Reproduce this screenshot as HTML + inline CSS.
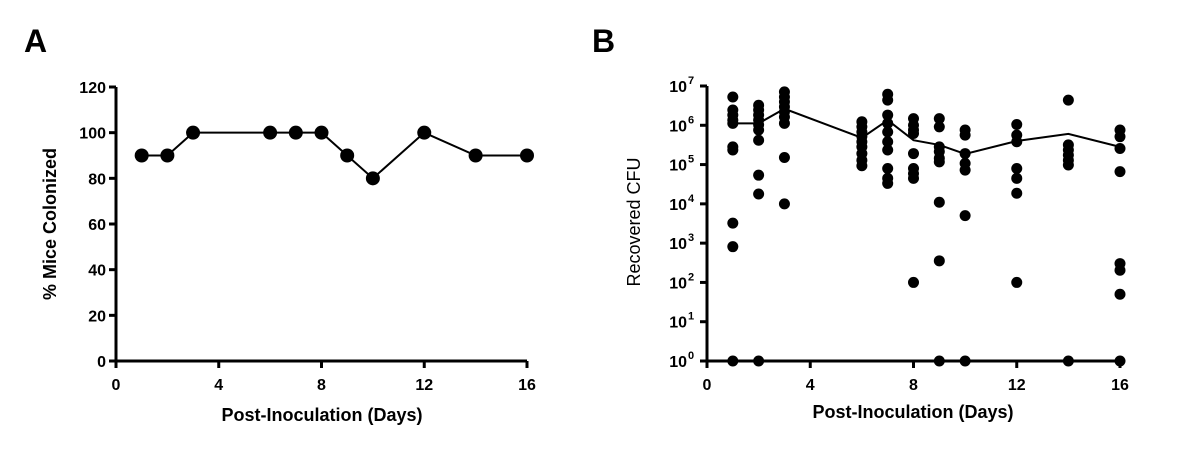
<!DOCTYPE html>
<html><head><meta charset="utf-8"><style>
html,body{margin:0;padding:0;background:#fff;}
svg{display:block;font-family:"Liberation Sans",Arial,sans-serif;}
</style></head><body>
<svg id="fig" width="1200" height="464" viewBox="0 0 1200 464">
<text x="24" y="52" font-size="32" font-weight="bold">A</text>
<text x="592" y="52" font-size="32" font-weight="bold">B</text>
<g id="pa"></g>
<g id="pb"></g>
</svg>
<script>
const NS="http://www.w3.org/2000/svg";
// Panel A data
const daysA=[1,2,3,6,7,8,9,10,12,14,16];
const pctA=[90,90,100,100,100,100,90,80,100,90,90];
const xTicks=[0,4,8,12,16];
const yTicksA=[0,20,40,60,80,100,120];
// Panel B data (log10 CFU)
const daysB=[1,2,3,6,7,8,9,10,12,14,16];
const cfuB=[
[6.72,6.39,6.26,6.13,6.05,5.45,5.37,3.51,2.91,0],
[6.51,6.39,6.26,6.13,6.01,5.88,5.62,4.73,4.25,0],
[6.85,6.72,6.60,6.47,6.34,6.21,6.05,5.18,4.0],
[6.09,5.96,5.83,5.71,5.58,5.45,5.28,5.11,4.97],
[6.79,6.64,6.26,6.05,5.83,5.58,5.37,4.90,4.65,4.52],
[6.17,6.0,5.88,5.79,5.28,4.90,4.77,4.65,2.0],
[6.17,5.96,5.45,5.33,5.16,5.07,4.04,2.55,0],
[5.88,5.75,5.28,5.03,4.86,3.70,0],
[6.02,5.75,5.58,4.90,4.65,4.27,2.0],
[6.64,5.50,5.37,5.24,5.11,4.99,0],
[5.88,5.71,5.41,4.82,2.48,2.31,1.70,0]];
const meanB=[6.05,6.05,6.42,5.68,6.13,5.62,5.50,5.27,5.60,5.78,5.45];
const yTicksB=[0,1,2,3,4,5,6,7];

function el(p,tag,attrs){const e=document.createElementNS(NS,tag);for(const k in attrs)e.setAttribute(k,attrs[k]);p.appendChild(e);return e;}

// Panel A
const ga=document.getElementById('pa');
const xA=d=>116+d*(527-116)/16, yA=v=>361-v*(361-87)/120;
let ax=el(ga,'path',{d:`M116,87 V361 H527`,fill:'none',stroke:'#000','stroke-width':3});

xTicks.forEach(t=>{const l=el(ga,'line',{x1:xA(t),x2:xA(t),y1:361,y2:368,stroke:'#000','stroke-width':3});

const tx=el(ga,'text',{x:xA(t),y:390,'font-size':16,'font-weight':'bold','text-anchor':'middle'});tx.textContent=t;
});
yTicksA.forEach(t=>{const l=el(ga,'line',{x1:109,x2:116,y1:yA(t),y2:yA(t),stroke:'#000','stroke-width':3});

const tx=el(ga,'text',{x:106,y:yA(t)+6,'font-size':16,'font-weight':'bold','text-anchor':'end'});tx.textContent=t;
});
let ln=el(ga,'polyline',{points:daysA.map((d,i)=>xA(d)+','+yA(pctA[i])).join(' '),fill:'none',stroke:'#000','stroke-width':2});

daysA.forEach((d,i)=>{const c=el(ga,'circle',{cx:xA(d),cy:yA(pctA[i]),r:7,fill:'#000'});
});
let t1=el(ga,'text',{x:0,y:0,'font-size':18,'font-weight':'bold','text-anchor':'middle',transform:'translate(56,224) rotate(-90)'});t1.textContent='% Mice Colonized';

let t2=el(ga,'text',{x:322,y:421,'font-size':18,'font-weight':'bold','text-anchor':'middle'});t2.textContent='Post-Inoculation (Days)';


// Panel B
const gb=document.getElementById('pb');
const xB=d=>707+d*(1120-707)/16, yB=v=>361-v*(361-86)/7;
let bx=el(gb,'path',{d:`M707,86 V361 H1120`,fill:'none',stroke:'#000','stroke-width':3});

xTicks.forEach(t=>{const l=el(gb,'line',{x1:xB(t),x2:xB(t),y1:361,y2:368,stroke:'#000','stroke-width':3});

const tx=el(gb,'text',{x:xB(t),y:390,'font-size':16,'font-weight':'bold','text-anchor':'middle'});tx.textContent=t;
});
yTicksB.forEach(t=>{const l=el(gb,'line',{x1:700,x2:707,y1:yB(t),y2:yB(t),stroke:'#000','stroke-width':3});

const tx=el(gb,'text',{x:687,y:yB(t)+6,'font-size':16,'font-weight':'bold','text-anchor':'end'});tx.textContent='10';

const sp=el(gb,'text',{x:688,y:yB(t)-2,'font-size':11,'font-weight':'bold','text-anchor':'start'});sp.textContent=t;
});
let mb=el(gb,'polyline',{points:daysB.map((d,i)=>xB(d)+','+yB(meanB[i])).join(' '),fill:'none',stroke:'#000','stroke-width':2});

daysB.forEach((d,i)=>cfuB[i].forEach(v=>{const c=el(gb,'circle',{cx:xB(d),cy:yB(v),r:5.5,fill:'#000'});
}));
let t3=el(gb,'text',{x:0,y:0,'font-size':18,'text-anchor':'middle',transform:'translate(640,222) rotate(-90)'});t3.textContent='Recovered CFU';

let t4=el(gb,'text',{x:913,y:418,'font-size':18,'font-weight':'bold','text-anchor':'middle'});t4.textContent='Post-Inoculation (Days)';

</script>
</body></html>
